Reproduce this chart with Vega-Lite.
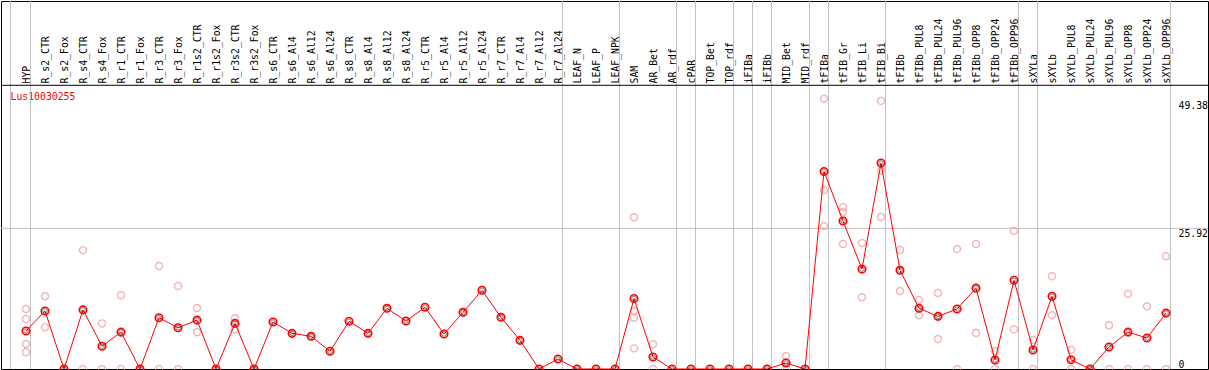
{
  "$schema": "https://vega.github.io/schema/vega-lite/v6.json",
  "width": 1207,
  "height": 368,
  "autosize": {"type": "none"},
  "padding": {"left": 1, "top": 1, "right": 1, "bottom": 1},
  "background": "white",
  "config": {
    "font": "DejaVu Sans Mono",
    "view": {"stroke": "black", "strokeWidth": 1},
    "axis": {"labelFont": "DejaVu Sans Mono", "titleFont": "DejaVu Sans Mono", "labelFontSize": 9.8, "titleFontSize": 9.8, "labelColor": "black"}
  },
  "datasets": {
    "means": [
      {"cat": "HYP", "mean": 7.0},
      {"cat": "R_s2_CTR", "mean": 10.7},
      {"cat": "R_s2_Fox", "mean": 0},
      {"cat": "R_s4_CTR", "mean": 10.9},
      {"cat": "R_s4_Fox", "mean": 4.2},
      {"cat": "R_r1_CTR", "mean": 6.8},
      {"cat": "R_r1_Fox", "mean": 0},
      {"cat": "R_r3_CTR", "mean": 9.45},
      {"cat": "R_r3_Fox", "mean": 7.6},
      {"cat": "R_r1s2_CTR", "mean": 9.0},
      {"cat": "R_r1s2_Fox", "mean": 0},
      {"cat": "R_r3s2_CTR", "mean": 8.4},
      {"cat": "R_r3s2_Fox", "mean": 0},
      {"cat": "R_s6_CTR", "mean": 8.66},
      {"cat": "R_s6_Al4", "mean": 6.57},
      {"cat": "R_s6_Al12", "mean": 6.02},
      {"cat": "R_s6_Al24", "mean": 3.26},
      {"cat": "R_s8_CTR", "mean": 8.79},
      {"cat": "R_s8_Al4", "mean": 6.57},
      {"cat": "R_s8_Al12", "mean": 11.18},
      {"cat": "R_s8_Al24", "mean": 8.84},
      {"cat": "R_r5_CTR", "mean": 11.37},
      {"cat": "R_r5_Al4", "mean": 6.45},
      {"cat": "R_r5_Al12", "mean": 10.44},
      {"cat": "R_r5_Al24", "mean": 14.5},
      {"cat": "R_r7_CTR", "mean": 9.52},
      {"cat": "R_r7_Al4", "mean": 5.28},
      {"cat": "R_r7_Al12", "mean": 0},
      {"cat": "R_r7_Al24", "mean": 1.84},
      {"cat": "LEAF_N", "mean": 0},
      {"cat": "LEAF_P", "mean": 0},
      {"cat": "LEAF_NPK", "mean": 0},
      {"cat": "SAM", "mean": 13.0},
      {"cat": "AR_Bet", "mean": 2.2},
      {"cat": "AR_rdf", "mean": 0},
      {"cat": "cPAR", "mean": 0},
      {"cat": "TOP_Bet", "mean": 0},
      {"cat": "TOP_rdf", "mean": 0},
      {"cat": "iFIBa", "mean": 0},
      {"cat": "iFIBb", "mean": 0},
      {"cat": "MID_Bet", "mean": 1.1},
      {"cat": "MID_rdf", "mean": 0},
      {"cat": "tFIBa", "mean": 36.4},
      {"cat": "tFIB_Gr", "mean": 27.27},
      {"cat": "tFIB_Li", "mean": 18.4},
      {"cat": "tFIB_Bi", "mean": 37.95},
      {"cat": "tFIBb", "mean": 18.18},
      {"cat": "tFIBb_PUL8", "mean": 11.2},
      {"cat": "tFIBb_PUL24", "mean": 9.7},
      {"cat": "tFIBb_PUL96", "mean": 11.05},
      {"cat": "tFIBb_OPP8", "mean": 14.9},
      {"cat": "tFIBb_OPP24", "mean": 1.66},
      {"cat": "tFIBb_OPP96", "mean": 16.34},
      {"cat": "sXYLa", "mean": 3.5},
      {"cat": "sXYLb", "mean": 13.4},
      {"cat": "sXYLb_PUL8", "mean": 1.7},
      {"cat": "sXYLb_PUL24", "mean": 0},
      {"cat": "sXYLb_PUL96", "mean": 4.05},
      {"cat": "sXYLb_OPP8", "mean": 6.8},
      {"cat": "sXYLb_OPP24", "mean": 5.71},
      {"cat": "sXYLb_OPP96", "mean": 10.3}
    ],
    "reps": [
      {"cat": "HYP", "value": 11.05}, {"cat": "HYP", "value": 9.2}, {"cat": "HYP", "value": 4.6}, {"cat": "HYP", "value": 3.07},
      {"cat": "R_s2_CTR", "value": 13.4}, {"cat": "R_s2_CTR", "value": 7.7},
      {"cat": "R_s2_Fox", "value": 0},
      {"cat": "R_s4_CTR", "value": 21.9}, {"cat": "R_s4_CTR", "value": 0},
      {"cat": "R_s4_Fox", "value": 8.4}, {"cat": "R_s4_Fox", "value": 0},
      {"cat": "R_r1_CTR", "value": 13.57}, {"cat": "R_r1_CTR", "value": 0},
      {"cat": "R_r1_Fox", "value": 0},
      {"cat": "R_r3_CTR", "value": 18.98}, {"cat": "R_r3_CTR", "value": 0},
      {"cat": "R_r3_Fox", "value": 15.3}, {"cat": "R_r3_Fox", "value": 0},
      {"cat": "R_r1s2_CTR", "value": 11.24}, {"cat": "R_r1s2_CTR", "value": 6.76},
      {"cat": "R_r1s2_Fox", "value": 0},
      {"cat": "R_r3s2_CTR", "value": 9.33}, {"cat": "R_r3s2_CTR", "value": 7.3},
      {"cat": "R_r3s2_Fox", "value": 0},
      {"cat": "SAM", "value": 27.95}, {"cat": "SAM", "value": 10.69}, {"cat": "SAM", "value": 9.46}, {"cat": "SAM", "value": 3.8},
      {"cat": "AR_Bet", "value": 4.55}, {"cat": "AR_Bet", "value": 0},
      {"cat": "MID_Bet", "value": 2.4}, {"cat": "MID_Bet", "value": 0},
      {"cat": "tFIBa", "value": 49.8}, {"cat": "tFIBa", "value": 32.98}, {"cat": "tFIBa", "value": 26.35},
      {"cat": "tFIB_Gr", "value": 29.79}, {"cat": "tFIB_Gr", "value": 28.92}, {"cat": "tFIB_Gr", "value": 23.03},
      {"cat": "tFIB_Li", "value": 23.21}, {"cat": "tFIB_Li", "value": 13.2},
      {"cat": "tFIB_Bi", "value": 49.4}, {"cat": "tFIB_Bi", "value": 36.53}, {"cat": "tFIB_Bi", "value": 28.0},
      {"cat": "tFIBb", "value": 21.92}, {"cat": "tFIBb", "value": 14.37},
      {"cat": "tFIBb_PUL8", "value": 12.71}, {"cat": "tFIBb_PUL8", "value": 9.89},
      {"cat": "tFIBb_PUL24", "value": 14.0}, {"cat": "tFIBb_PUL24", "value": 5.53},
      {"cat": "tFIBb_PUL96", "value": 22.1}, {"cat": "tFIBb_PUL96", "value": 0},
      {"cat": "tFIBb_OPP8", "value": 23.03}, {"cat": "tFIBb_OPP8", "value": 6.63},
      {"cat": "tFIBb_OPP24", "value": 3.3}, {"cat": "tFIBb_OPP24", "value": 0},
      {"cat": "tFIBb_OPP96", "value": 25.42}, {"cat": "tFIBb_OPP96", "value": 7.3},
      {"cat": "sXYLa", "value": 5.34}, {"cat": "sXYLa", "value": 0},
      {"cat": "sXYLb", "value": 17.08}, {"cat": "sXYLb", "value": 9.89},
      {"cat": "sXYLb_PUL8", "value": 3.5}, {"cat": "sXYLb_PUL8", "value": 0},
      {"cat": "sXYLb_PUL24", "value": 0},
      {"cat": "sXYLb_PUL96", "value": 8.05}, {"cat": "sXYLb_PUL96", "value": 0},
      {"cat": "sXYLb_OPP8", "value": 13.82}, {"cat": "sXYLb_OPP8", "value": 0},
      {"cat": "sXYLb_OPP24", "value": 11.55}, {"cat": "sXYLb_OPP24", "value": 0},
      {"cat": "sXYLb_OPP96", "value": 20.76}, {"cat": "sXYLb_OPP96", "value": 0}
    ],
    "dividers": [
      {"cat": "HYP"}, {"cat": "R_r7_Al24"}, {"cat": "LEAF_NPK"}, {"cat": "AR_rdf"}, {"cat": "cPAR"},
      {"cat": "TOP_rdf"}, {"cat": "iFIBa"}, {"cat": "iFIBb"}, {"cat": "MID_rdf"}, {"cat": "tFIBa"},
      {"cat": "tFIB_Bi"}, {"cat": "tFIBb_OPP96"}, {"cat": "sXYLa"}, {"cat": "sXYLb_OPP96"}
    ]
  },
  "layer": [
    {
      "data": {"name": "dividers"},
      "mark": {"type": "rule", "color": "#c0c0c0", "strokeWidth": 1},
      "encoding": {
        "x": {"field": "cat", "type": "nominal", "sort": null, "scale": {"type": "point"}},
        "xOffset": {"value": 4.5}
      }
    },
    {
      "data": {"values": [{"first": "HYP"}]},
      "mark": {"type": "rule", "color": "#c0c0c0", "strokeWidth": 1},
      "encoding": {
        "x": {"field": "first", "type": "nominal", "sort": null, "scale": {"type": "point"}},
        "xOffset": {"value": -15.5}
      }
    },
    {
      "data": {"values": [{"grid": 25.92}]},
      "mark": {"type": "rule", "color": "#c0c0c0", "strokeWidth": 1},
      "encoding": {
        "y": {"field": "grid", "type": "quantitative", "title": "Lus10030255"}
      }
    },
    {
      "data": {"values": [{"sep": 52.27}]},
      "mark": {"type": "rule", "color": "black", "strokeWidth": 1},
      "encoding": {
        "y": {"field": "sep", "type": "quantitative", "title": "Lus10030255"}
      }
    },
    {
      "data": {"name": "reps"},
      "mark": {"type": "point", "shape": "circle", "filled": false, "color": "#ee9a9a", "size": 50, "strokeWidth": 1.4},
      "encoding": {
        "x": {"field": "cat", "type": "nominal", "sort": null, "scale": {"type": "point"}, "title": null},
        "y": {"field": "value", "type": "quantitative", "title": "Lus10030255"}
      }
    },
    {
      "data": {"name": "means"},
      "mark": {"type": "line", "color": "#ff0000", "strokeWidth": 1},
      "encoding": {
        "x": {
          "field": "cat", "type": "nominal", "sort": null, "title": null,
          "scale": {
            "type": "point", "range": [25, 1165], "padding": 0,
            "domain": ["HYP", "R_s2_CTR", "R_s2_Fox", "R_s4_CTR", "R_s4_Fox", "R_r1_CTR", "R_r1_Fox", "R_r3_CTR", "R_r3_Fox", "R_r1s2_CTR", "R_r1s2_Fox", "R_r3s2_CTR", "R_r3s2_Fox", "R_s6_CTR", "R_s6_Al4", "R_s6_Al12", "R_s6_Al24", "R_s8_CTR", "R_s8_Al4", "R_s8_Al12", "R_s8_Al24", "R_r5_CTR", "R_r5_Al4", "R_r5_Al12", "R_r5_Al24", "R_r7_CTR", "R_r7_Al4", "R_r7_Al12", "R_r7_Al24", "LEAF_N", "LEAF_P", "LEAF_NPK", "SAM", "AR_Bet", "AR_rdf", "cPAR", "TOP_Bet", "TOP_rdf", "iFIBa", "iFIBb", "MID_Bet", "MID_rdf", "tFIBa", "tFIB_Gr", "tFIB_Li", "tFIB_Bi", "tFIBb", "tFIBb_PUL8", "tFIBb_PUL24", "tFIBb_PUL96", "tFIBb_OPP8", "tFIBb_OPP24", "tFIBb_OPP96", "sXYLa", "sXYLb", "sXYLb_PUL8", "sXYLb_PUL24", "sXYLb_PUL96", "sXYLb_OPP8", "sXYLb_OPP24", "sXYLb_OPP96"]
          },
          "axis": {
            "orient": "top", "ticks": false, "tickSize": 0, "domain": false, "grid": false,
            "labelAngle": 270, "labelAlign": "left", "labelBaseline": "middle",
            "labelPadding": -82, "labelOverlap": false, "labelBound": false, "labelLimit": 0,
            "labelFlush": false
          }
        },
        "y": {
          "field": "mean", "type": "quantitative", "title": "Lus10030255",
          "scale": {"domain": [0, 67.8], "nice": false, "zero": true},
          "axis": {
            "orient": "right", "values": [0, 25.92, 49.38], "ticks": false, "tickSize": 0,
            "domain": false, "grid": false, "labelAlign": "left", "labelPadding": -30,
            "labelExpr": "datum.value + ''",
            "labelBaseline": {"condition": {"test": "datum.value == 0", "value": "bottom"}, "value": "top"},
            "labelFlush": false, "labelBound": false,
            "titleColor": "#ff0000", "titleAngle": 0, "titleAlign": "left", "titleBaseline": "top",
            "titleFontWeight": "normal", "titleX": -1198, "titleY": 90
          }
        }
      }
    },
    {
      "data": {"name": "means"},
      "mark": {"type": "point", "shape": "circle", "filled": false, "color": "#ff0000", "size": 56, "strokeWidth": 1.6, "opacity": 1},
      "encoding": {
        "x": {"field": "cat", "type": "nominal", "sort": null, "scale": {"type": "point"}, "title": null},
        "y": {"field": "mean", "type": "quantitative", "title": "Lus10030255"}
      }
    },
    {
      "data": {"name": "means"},
      "mark": {"type": "point", "shape": "circle", "filled": false, "color": "#000000", "size": 20, "strokeWidth": 0.7, "opacity": 0.7},
      "encoding": {
        "x": {"field": "cat", "type": "nominal", "sort": null, "scale": {"type": "point"}, "title": null},
        "y": {"field": "mean", "type": "quantitative", "title": "Lus10030255"}
      }
    }
  ]
}
